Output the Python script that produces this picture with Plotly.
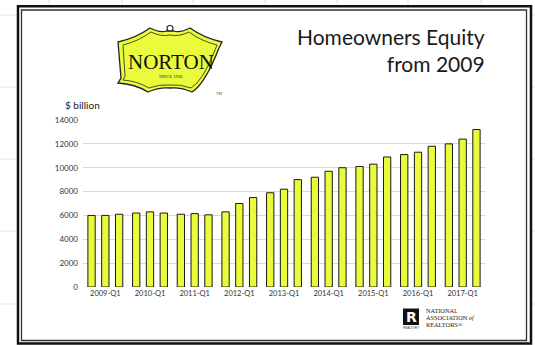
import plotly.graph_objects as go

# Quarterly homeowners' equity, $ billion (three readings per year group)
year_labels = ["2009-Q1", "2010-Q1", "2011-Q1", "2012-Q1", "2013-Q1",
               "2014-Q1", "2015-Q1", "2016-Q1", "2017-Q1"]
equity = [6000, 6000, 6100,
          6200, 6300, 6200,
          6100, 6150, 6050,
          6300, 7000, 7500,
          7900, 8200, 9000,
          9200, 9700, 10000,
          10100, 10300, 10900,
          11100, 11300, 11800,
          12000, 12400, 13200]
y_ticks = [0, 2000, 4000, 6000, 8000, 10000, 12000, 14000]
y_tick_text = [str(v) for v in y_ticks]

W, H = 535, 345
L, R, T, B = 83, 485, 120, 287   # plot area in pixels

def px(x):
    return (x - L) / (R - L)

def py(y):
    return (B - y) / (B - T)

BAR_FILL = "#E9FB3A"
FONT = "Lato"

fig = go.Figure()
for k in range(3):
    fig.add_trace(go.Bar(
        x=year_labels, y=equity[k::3],
        marker=dict(color=BAR_FILL, line=dict(color="#1a1a1a", width=1)),
        showlegend=False, hoverinfo="x+y"))

shapes = []
ann = []

# faint worksheet cell lines around the chart frame
for gx in [49, 122, 193, 265, 337, 408, 481]:
    shapes.append(dict(type="line", xref="paper", yref="paper",
                       x0=px(gx), x1=px(gx), y0=py(0), y1=py(6),
                       line=dict(color="#e4e4e4", width=1), layer="below"))
for gy in [15, 87, 159, 231, 304]:
    for a, b in [(0, 17), (532, 535)]:
        shapes.append(dict(type="line", xref="paper", yref="paper",
                           x0=px(a), x1=px(b), y0=py(gy), y1=py(gy),
                           line=dict(color="#e4e4e4", width=1), layer="below"))

# double frame
shapes.append(dict(type="rect", xref="paper", yref="paper",
                   x0=px(18), x1=px(531), y0=py(6.3), y1=py(343.5),
                   line=dict(color="#111111", width=2.5)))
shapes.append(dict(type="rect", xref="paper", yref="paper",
                   x0=px(21.5), x1=px(526.5), y0=py(10), y1=py(340.5),
                   line=dict(color="#333333", width=1.3)))

# Norton cartouche logo
def path(points_cmds):
    out = []
    for cmd, pts in points_cmds:
        coords = " ".join(f"{px(x):.5f},{py(y):.5f}" for x, y in pts)
        out.append(f"{cmd}{coords}")
    return " ".join(out) + " Z"

outer = path([
    ("M", [(118, 42)]),
    ("Q", [(136, 38), (150, 28)]),
    ("Q", [(160, 33), (166, 31)]),
    ("L", [(174, 31)]),
    ("Q", [(180, 33), (190, 28)]),
    ("Q", [(204, 38), (222, 42)]),
    ("L", [(219, 48), (219, 78), (222, 83)]),
    ("Q", [(205, 84), (192, 92)]),
    ("Q", [(181, 87), (170, 88)]),
    ("Q", [(159, 87), (148, 92)]),
    ("Q", [(135, 84), (118, 83)]),
    ("L", [(121, 78), (121, 48)]),
])
inner = path([
    ("M", [(123, 45)]),
    ("Q", [(139, 41), (151, 32)]),
    ("Q", [(161, 37), (170, 35)]),
    ("Q", [(179, 37), (189, 32)]),
    ("Q", [(201, 41), (217, 45)]),
    ("L", [(215, 50), (215, 76), (217, 80)]),
    ("Q", [(203, 81), (191, 88)]),
    ("Q", [(180, 84), (170, 85)]),
    ("Q", [(160, 84), (149, 88)]),
    ("Q", [(137, 81), (123, 80)]),
    ("L", [(125, 76), (125, 50)]),
])
shapes.append(dict(type="path", xref="paper", yref="paper", path=outer,
                   fillcolor=BAR_FILL, line=dict(color="#222222", width=1.3)))
shapes.append(dict(type="path", xref="paper", yref="paper", path=inner,
                   line=dict(color="#222222", width=0.8)))
shapes.append(dict(type="circle", xref="paper", yref="paper",
                   x0=px(167), x1=px(173), y0=py(25.5), y1=py(31),
                   fillcolor="white", line=dict(color="#222222", width=1.1)))

ann.append(dict(text="NORTON", x=px(170.5), y=py(62), xref="paper", yref="paper",
                showarrow=False, xanchor="center", yanchor="middle",
                font=dict(family="Liberation Serif", size=21, color="#111111")))
ann.append(dict(text="SINCE 1928", x=px(170.5), y=py(76.5), xref="paper", yref="paper",
                showarrow=False, xanchor="center", yanchor="middle",
                font=dict(family="Liberation Serif", size=4.5, color="#222222")))
ann.append(dict(text="TM", x=px(219), y=py(93), xref="paper", yref="paper",
                showarrow=False, xanchor="center", yanchor="middle",
                font=dict(family="Liberation Sans", size=4, color="#444444")))

# title
ann.append(dict(text="Homeowners Equity<br>from 2009", x=px(487), y=py(22),
                xref="paper", yref="paper", showarrow=False,
                xanchor="right", yanchor="top", align="right",
                font=dict(family=FONT, size=21, color="#1a1a1a")))

# unit label
ann.append(dict(text="$ billion", x=px(82), y=py(105), xref="paper", yref="paper",
                showarrow=False, xanchor="center", yanchor="middle",
                font=dict(family=FONT, size=10, color="#1a1a1a")))

# National Association of Realtors mark
shapes.append(dict(type="rect", xref="paper", yref="paper",
                   x0=px(403), x1=px(419), y0=py(308.5), y1=py(325),
                   fillcolor="#111111", line=dict(width=0)))
ann.append(dict(text="<b>R</b>", x=px(411.5), y=py(317), xref="paper", yref="paper",
                showarrow=False, xanchor="center", yanchor="middle",
                font=dict(family="DejaVu Sans", size=14, color="white")))
ann.append(dict(text="REALTOR®", x=px(411), y=py(328), xref="paper", yref="paper",
                showarrow=False, xanchor="center", yanchor="middle",
                font=dict(family="Liberation Sans", size=3, color="#333333")))
for txt, yy in [("NATIONAL", 310.5), ("ASSOCIATION <i>of</i>", 317.5), ("REALTORS®", 324.5)]:
    ann.append(dict(text=txt, x=px(423.5), y=py(yy), xref="paper", yref="paper",
                    showarrow=False, xanchor="left", yanchor="middle",
                    font=dict(family="Liberation Serif", size=6.3, color="#222222")))

fig.update_layout(
    width=W, height=H,
    margin=dict(l=L, r=W - R, t=T, b=H - B, pad=0),
    paper_bgcolor="white", plot_bgcolor="white",
    barmode="group", bargap=0.074, bargroupgap=0.47,
    shapes=shapes, annotations=ann,
    font=dict(family=FONT, color="#333333"),
    xaxis=dict(type="category", showgrid=False, showline=False, zeroline=False,
               ticks="", tickfont=dict(size=7.5, color="#333333"),
               automargin=False, fixedrange=True),
    yaxis=dict(range=[0, 14000], tickvals=y_ticks, ticktext=y_tick_text,
               showgrid=True, gridcolor="#d9d9d9", gridwidth=1, zeroline=False,
               showline=False, ticks="", ticklabelstandoff=4,
               tickfont=dict(size=8, color="#333333"),
               automargin=False, fixedrange=True),
)

fig.write_html("out.html", config={"displayModeBar": False})
